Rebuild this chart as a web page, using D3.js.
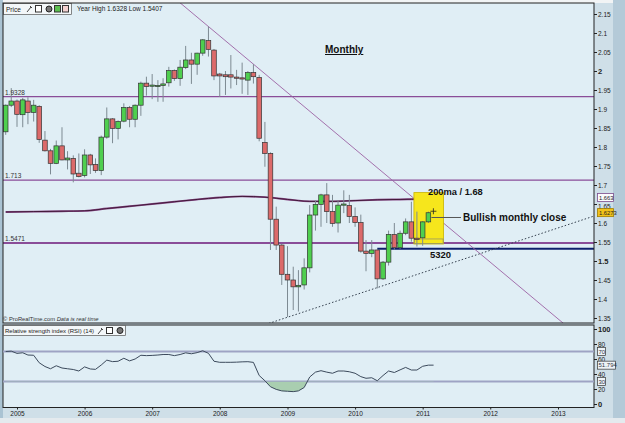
<!DOCTYPE html>
<html>
<head>
<meta charset="utf-8">
<script src="https://cdn.jsdelivr.net/npm/d3@7"></script>
<style>
  body { margin: 0; background: #c9dbe5; }
  svg text { font-family: "Liberation Sans", Arial, sans-serif; }
</style>
</head>
<body>
<svg id="chart" width="625" height="423"></svg>
<script>
// monthly candles, Nov 2004 .. Feb 2011
const months = [
  "2004-11", "2004-12",
  "2005-01", "2005-02", "2005-03", "2005-04", "2005-05", "2005-06", "2005-07", "2005-08", "2005-09", "2005-10", "2005-11", "2005-12",
  "2006-01", "2006-02", "2006-03", "2006-04", "2006-05", "2006-06", "2006-07", "2006-08", "2006-09", "2006-10", "2006-11", "2006-12",
  "2007-01", "2007-02", "2007-03", "2007-04", "2007-05", "2007-06", "2007-07", "2007-08", "2007-09", "2007-10", "2007-11", "2007-12",
  "2008-01", "2008-02", "2008-03", "2008-04", "2008-05", "2008-06", "2008-07", "2008-08", "2008-09", "2008-10", "2008-11", "2008-12",
  "2009-01", "2009-02", "2009-03", "2009-04", "2009-05", "2009-06", "2009-07", "2009-08", "2009-09", "2009-10", "2009-11", "2009-12",
  "2010-01", "2010-02", "2010-03", "2010-04", "2010-05", "2010-06", "2010-07", "2010-08", "2010-09", "2010-10", "2010-11", "2010-12",
  "2011-01", "2011-02"
];
const opens = [
  1.840, 1.910,
  1.921, 1.885, 1.921, 1.891, 1.907, 1.818, 1.790, 1.757, 1.803, 1.766, 1.770, 1.731,
  1.725, 1.779, 1.754, 1.738, 1.826, 1.874, 1.849, 1.868, 1.904, 1.873, 1.910, 1.968,
  1.960, 1.962, 1.962, 1.969, 2.001, 1.980, 2.009, 2.029, 2.018, 2.047, 2.080, 2.055,
  1.992, 1.990, 1.990, 1.984, 1.982, 1.976, 1.996, 1.983, 1.812, 1.783, 1.610, 1.542,
  1.465, 1.450, 1.432, 1.437, 1.482, 1.621, 1.649, 1.674, 1.630, 1.600, 1.647, 1.646,
  1.617, 1.601, 1.526, 1.520, 1.529, 1.453, 1.497, 1.570, 1.535, 1.573, 1.603, 1.560,
  1.561, 1.603
];
const highs = [
  1.912, 1.955,
  1.925, 1.929, 1.931, 1.924, 1.910, 1.842, 1.795, 1.817, 1.852, 1.789, 1.778, 1.783,
  1.794, 1.782, 1.770, 1.830, 1.904, 1.876, 1.870, 1.915, 1.908, 1.912, 1.972, 1.985,
  1.992, 1.976, 1.981, 2.011, 2.004, 2.029, 2.066, 2.048, 2.048, 2.084, 2.117, 2.058,
  1.995, 2.000, 2.042, 2.003, 2.022, 2.000, 2.018, 1.990, 1.866, 1.786, 1.643, 1.545,
  1.539, 1.485, 1.476, 1.507, 1.647, 1.660, 1.677, 1.705, 1.674, 1.659, 1.686, 1.674,
  1.641, 1.622, 1.555, 1.555, 1.530, 1.500, 1.580, 1.600, 1.580, 1.612, 1.656, 1.630,
  1.605, 1.630
];
const lows = [
  1.832, 1.905,
  1.853, 1.852, 1.860, 1.867, 1.811, 1.788, 1.728, 1.755, 1.765, 1.741, 1.707, 1.720,
  1.720, 1.729, 1.732, 1.726, 1.822, 1.810, 1.820, 1.865, 1.852, 1.852, 1.882, 1.935,
  1.926, 1.919, 1.919, 1.959, 1.974, 1.961, 2.005, 1.966, 1.990, 2.040, 2.038, 1.976,
  1.932, 1.937, 1.954, 1.963, 1.940, 1.937, 1.967, 1.815, 1.748, 1.529, 1.529, 1.437,
  1.353, 1.371, 1.367, 1.425, 1.470, 1.580, 1.590, 1.600, 1.590, 1.575, 1.626, 1.600,
  1.590, 1.522, 1.473, 1.510, 1.428, 1.450, 1.488, 1.530, 1.532, 1.568, 1.551, 1.538,
  1.540, 1.600
];
const closes = [
  1.910, 1.921,
  1.886, 1.924, 1.891, 1.910, 1.820, 1.790, 1.757, 1.803, 1.766, 1.771, 1.729, 1.722,
  1.779, 1.753, 1.738, 1.826, 1.874, 1.849, 1.867, 1.904, 1.873, 1.910, 1.968, 1.959,
  1.963, 1.962, 1.966, 2.001, 1.980, 2.010, 2.029, 2.018, 2.047, 2.082, 2.057, 1.987,
  1.987, 1.985, 1.984, 1.981, 1.980, 1.996, 1.985, 1.823, 1.783, 1.610, 1.542, 1.465,
  1.450, 1.432, 1.436, 1.482, 1.621, 1.649, 1.674, 1.630, 1.599, 1.647, 1.650, 1.617,
  1.601, 1.526, 1.520, 1.529, 1.453, 1.497, 1.570, 1.535, 1.573, 1.603, 1.560, 1.558,
  1.603, 1.627
];

// RSI(14), one value per month (last one = current month)
const rsiMonths = months.concat(["2011-03"]);
const rsiValues = [
  70, 70.5, 67.5, 68.3, 65.3, 65, 55, 50, 47, 51,
  48, 47, 46, 44, 49.5, 46.7, 46.2, 52, 58.5, 56.5,
  57, 61, 57.5, 60, 65, 64.5, 64.8, 65.3, 66, 66,
  64.5, 66, 68.2, 67, 68.5, 71, 67.6, 57, 55.6, 55.6,
  55.6, 55.8, 56.2, 56.4, 55.5, 38, 31, 23, 19.5, 17.5,
  17, 16.5, 17.5, 22, 36, 42.5, 44.4, 42.5, 41, 44,
  44, 43, 41, 36.5, 34.3, 35, 31, 38, 44, 42,
  45.5, 48.8, 45.3, 45.3, 50.3, 51.8, 51.8
];

// 200 period moving average, read every few months
const maMonths = ["2004-11", "2005-04", "2005-09", "2006-01", "2006-05", "2006-09", "2007-01", "2007-05",
                  "2007-09", "2008-01", "2008-05", "2008-09", "2009-01", "2009-05", "2009-09", "2010-01",
                  "2010-05", "2010-09", "2011-01", "2011-03"];
const maValues = [1.629, 1.630, 1.631, 1.632, 1.638, 1.644, 1.650, 1.656,
                  1.662, 1.667, 1.670, 1.668, 1.662, 1.657, 1.657, 1.659,
                  1.661, 1.662, 1.663, 1.663];

const levels = [1.9328, 1.713, 1.5471];
const levelLabels = ["1.9328", "1.713", "1.5471"];
const support = { from: "2010-05", value: 1.532, label: "5320" };
const downTrend = [["2007-11", 2.117], ["2008-07", 2.018]];
const upTrend = [["2009-01", 1.352], ["2010-05", 1.430]];
const highlight = { from: "2010-12", to: "2011-03", top: 1.68, bottom: 1.5447 };

const priceTicks = [2.15, 2.1, 2.05, 2, 1.95, 1.9, 1.85, 1.8, 1.75, 1.7, 1.65, 1.6, 1.55, 1.5, 1.45, 1.4, 1.35];
const rsiTicks = [100, 80, 60, 40, 20, 0];
const rsiLevels = [70, 30];
const years = ["2005", "2006", "2007", "2008", "2009", "2010", "2011", "2012", "2013"];

const lastMa = 1.663;
const lastClose = 1.6273;
const lastRsi = 51.794;

// layout
const price = { left: 3, right: 594, top: 3, bottom: 323 };
const osc = { left: 3, right: 594, top: 325, bottom: 407.5 };

const parseMonth = d3.timeParse("%Y-%m");

const x = d3.scaleTime()
  .domain([parseMonth("2005-01"), parseMonth("2013-01")])
  .range([17, 558]);
const y = d3.scaleLinear().domain([1.35, 2.15]).range([318, 14]);
const yr = d3.scaleLinear().domain([0, 100]).range([404, 329]);

const svg = d3.select("#chart");

// frame
svg.append("rect").attr("width", 625).attr("height", 423).attr("fill", "#cfdfe8");
svg.append("rect").attr("x", 0).attr("y", 0).attr("width", 625).attr("height", 3).attr("fill", "#f2f4f5");
svg.append("rect").attr("x", 613).attr("y", 0).attr("width", 12).attr("height", 423).attr("fill", "#b4cad8");
svg.append("rect").attr("x", 0).attr("y", 0).attr("width", 3).attr("height", 418).attr("fill", "#aac3d3");
svg.append("rect").attr("x", 0).attr("y", 418).attr("width", 625).attr("height", 5).attr("fill", "#e4eaee");

const defs = svg.append("defs");
defs.append("clipPath").attr("id", "clip-price")
  .append("rect").attr("x", price.left).attr("y", price.top)
  .attr("width", price.right - price.left).attr("height", price.bottom - price.top);
defs.append("clipPath").attr("id", "clip-rsi-low")
  .append("rect").attr("x", osc.left).attr("y", yr(30))
  .attr("width", osc.right - osc.left).attr("height", osc.bottom - yr(30));

// ---------- price panel ----------
svg.append("rect")
  .attr("x", price.left).attr("y", price.top)
  .attr("width", price.right - price.left).attr("height", price.bottom - price.top)
  .attr("fill", "#e0eef5");

const g = svg.append("g").attr("clip-path", "url(#clip-price)");

// horizontal levels
g.selectAll(".level").data(levels).enter().append("line")
  .attr("x1", price.left).attr("x2", price.right)
  .attr("y1", d => y(d)).attr("y2", d => y(d))
  .attr("stroke", "#8a4d98")
  .attr("stroke-width", (d, i) => i === 2 ? 2 : 1.2);

svg.selectAll(".level-label").data(levels).enter().append("text")
  .attr("x", 5).attr("y", d => y(d) - 2)
  .attr("font-size", 6.5).attr("fill", "#333")
  .text((d, i) => levelLabels[i]);

// support line
g.append("line")
  .attr("x1", x(parseMonth(support.from))).attr("x2", price.right)
  .attr("y1", y(support.value)).attr("y2", y(support.value))
  .attr("stroke", "#0d1f6b").attr("stroke-width", 2);

// trend lines, extended across the panel
const extend = (pts) => {
  const [a, b] = pts.map(p => [x(parseMonth(p[0])), y(p[1])]);
  const k = (b[1] - a[1]) / (b[0] - a[0]);
  return [[price.left, a[1] + k * (price.left - a[0])], [price.right, a[1] + k * (price.right - a[0])]];
};
const down = extend(downTrend);
g.append("line")
  .attr("x1", down[0][0]).attr("y1", down[0][1]).attr("x2", down[1][0]).attr("y2", down[1][1])
  .attr("stroke", "#9c62a4").attr("stroke-width", 0.9);
const up = extend(upTrend);
g.append("line")
  .attr("x1", up[0][0]).attr("y1", up[0][1]).attr("x2", up[1][0]).attr("y2", up[1][1])
  .attr("stroke", "#34404e").attr("stroke-width", 1).attr("stroke-dasharray", "1.5,2");

// moving average
const maLine = d3.line()
  .x((d, i) => x(parseMonth(maMonths[i])))
  .y(d => y(d))
  .curve(d3.curveMonotoneX);
g.append("path").attr("d", maLine(maValues))
  .attr("fill", "none").attr("stroke", "#8a4d8a").attr("stroke-width", 1.9);
g.append("path").attr("d", maLine(maValues))
  .attr("fill", "none").attr("stroke", "#3a1230").attr("stroke-width", 0.9);

// highlight box around the last candles
const boxX0 = x(parseMonth(highlight.from)) - 3;
const boxX1 = x(parseMonth(highlight.to)) + 10;
g.append("rect")
  .attr("x", boxX0).attr("y", y(highlight.top))
  .attr("width", boxX1 - boxX0).attr("height", y(highlight.bottom) - y(highlight.top))
  .attr("fill", "#f6e61c").attr("stroke", "#c9b400").attr("stroke-width", 0.8);
g.append("rect")
  .attr("x", boxX0 + 0.5).attr("y", y(1.558))
  .attr("width", boxX1 - boxX0 - 1).attr("height", y(highlight.bottom) - y(1.558) - 0.5)
  .attr("fill", "none").attr("stroke", "#8a8a70").attr("stroke-width", 0.7);

// candles
const candles = months.map((m, i) => ({ date: parseMonth(m), o: opens[i], h: highs[i], l: lows[i], c: closes[i] }));
g.selectAll(".wick").data(candles).enter().append("line")
  .attr("x1", d => x(d.date)).attr("x2", d => x(d.date))
  .attr("y1", d => y(d.h)).attr("y2", d => y(d.l))
  .attr("stroke", "#7d8a92").attr("stroke-width", 1);
g.selectAll(".body").data(candles).enter().append("rect")
  .attr("x", d => x(d.date) - 2.3)
  .attr("width", 4.6)
  .attr("y", d => y(Math.max(d.o, d.c)))
  .attr("height", d => Math.max(1.2, Math.abs(y(d.o) - y(d.c))))
  .attr("fill", d => d.c >= d.o ? "#4fcf4f" : "#dc6a6a")
  .attr("stroke", "#333").attr("stroke-width", 0.7);

// annotations
const lastCandle = candles[candles.length - 1];
const crossX = x(lastCandle.date) + 5;
const crossY = y(lastCandle.c) - 1.5;
g.append("path")
  .attr("d", `M${crossX - 3},${crossY}H${crossX + 3}M${crossX},${crossY - 3}V${crossY + 3}`)
  .attr("stroke", "#222").attr("stroke-width", 0.8);
g.append("line")
  .attr("x1", x(lastCandle.date) + 3).attr("x2", 461)
  .attr("y1", y(1.6145)).attr("y2", y(1.6145))
  .attr("stroke", "#555").attr("stroke-width", 1);

svg.append("text").attr("x", 463).attr("y", y(1.6145) + 3.5)
  .attr("font-size", 10).attr("font-weight", "bold").attr("fill", "#111")
  .text("Bullish monthly close");
svg.append("text").attr("x", 428).attr("y", y(1.685) + 4)
  .attr("font-size", 9.3).attr("font-weight", "bold").attr("fill", "#111")
  .text("200ma / 1.68");
svg.append("text").attr("x", boxX0 + 16).attr("y", y(1.532) + 9)
  .attr("font-size", 9.5).attr("font-weight", "bold").attr("fill", "#111")
  .text(support.label);
svg.append("text").attr("x", 325).attr("y", 53)
  .attr("font-size", 10).attr("font-weight", "bold").attr("fill", "#111")
  .attr("text-decoration", "underline")
  .text("Monthly");

// price legend box
const leg = svg.append("g");
leg.append("rect").attr("x", 3.5).attr("y", 3.5).attr("width", 68).attr("height", 11)
  .attr("fill", "#f3f7f9").attr("stroke", "#555").attr("stroke-width", 0.7);
leg.append("text").attr("x", 6).attr("y", 11.5).attr("font-size", 6.5).attr("fill", "#222").text("Price");
leg.append("path").attr("d", "M27,12 L31,7 M30,6 l2,2").attr("stroke", "#444").attr("fill", "none");
leg.append("rect").attr("x", 35.5).attr("y", 5.5).attr("width", 6).attr("height", 6.5).attr("fill", "#fff").attr("stroke", "#333");
leg.append("circle").attr("cx", 49).attr("cy", 9).attr("r", 3).attr("fill", "#777").attr("stroke", "#222");
leg.append("rect").attr("x", 54.5).attr("y", 5.5).attr("width", 6).attr("height", 6.5).attr("fill", "#5bbf4f").attr("stroke", "#333");
leg.append("rect").attr("x", 62.5).attr("y", 5.5).attr("width", 6).attr("height", 6.5).attr("fill", "#f2d0d0").attr("stroke", "#333");
svg.append("text").attr("x", 77).attr("y", 10.5).attr("font-size", 6.5).attr("fill", "#222")
  .text("Year High 1.6328 Low 1.5407");

const credit = svg.append("text").attr("x", 3).attr("y", 321).attr("font-size", 5.8).attr("fill", "#333");
credit.append("tspan").text("© ProRealTime.com  ");
credit.append("tspan").attr("font-style", "italic").text("Data is real time");

// price panel border
svg.append("rect")
  .attr("x", price.left).attr("y", price.top)
  .attr("width", price.right - price.left).attr("height", price.bottom - price.top)
  .attr("fill", "none").attr("stroke", "#222").attr("stroke-width", 1);

// right price axis
const yAxis = d3.axisRight(y).tickValues(priceTicks).tickSize(3).tickFormat(d => String(d));
const ya = svg.append("g").attr("transform", `translate(${price.right},0)`).call(yAxis);
ya.select(".domain").remove();
ya.selectAll("line").attr("stroke", "#222");
ya.selectAll("text").attr("x", 4).attr("fill", "#222")
  .attr("font-weight", d => (d === 2 || d === 1.5) ? "bold" : null)
  .attr("font-size", d => (d === 2 || d === 1.5) ? 7.5 : 6.5)
  .attr("dy", d => d === 1.65 ? "0.75em" : "0.32em");

// value badges
const badge = (yy, txt, fill, stroke) => {
  svg.append("rect").attr("x", 597.5).attr("y", yy - 4).attr("width", 16).attr("height", 8)
    .attr("fill", fill).attr("stroke", stroke).attr("stroke-width", 0.8);
  svg.append("text").attr("x", 599).attr("y", yy + 2.2).attr("font-size", 5.8).attr("fill", "#222").text(txt);
};
badge(y(lastMa) - 1.5, "1.663", "#fbfbfd", "#7a4a8a");
badge(y(lastClose), "1.6273", "#f2c21a", "#a07e00");

// ---------- RSI panel ----------
svg.append("rect")
  .attr("x", osc.left).attr("y", osc.top)
  .attr("width", osc.right - osc.left).attr("height", osc.bottom - osc.top)
  .attr("fill", "#e0eef5").attr("stroke", "#222").attr("stroke-width", 1);

svg.selectAll(".rsi-level").data(rsiLevels).enter().append("line")
  .attr("x1", osc.left).attr("x2", osc.right)
  .attr("y1", d => yr(d)).attr("y2", d => yr(d))
  .attr("stroke", "#9ea3c4").attr("stroke-width", 2);

const rsiData = rsiValues.map((v, i) => ({ date: parseMonth(rsiMonths[i]), v }));
svg.append("path")
  .attr("clip-path", "url(#clip-rsi-low)")
  .attr("d", d3.area().x(d => x(d.date)).y0(yr(30)).y1(d => yr(d.v))(rsiData))
  .attr("fill", "#a9ceb0").attr("stroke", "none");
svg.append("path")
  .attr("d", d3.line().x(d => x(d.date)).y(d => yr(d.v))(rsiData))
  .attr("fill", "none").attr("stroke", "#3c4a5c").attr("stroke-width", 1);

// RSI legend box
const leg2 = svg.append("g");
leg2.append("rect").attr("x", 3.5).attr("y", 325.5).attr("width", 122).attr("height", 10)
  .attr("fill", "#f3f7f9").attr("stroke", "#555").attr("stroke-width", 0.7);
leg2.append("text").attr("x", 5).attr("y", 333).attr("font-size", 6).attr("fill", "#222")
  .text("Relative strength index (RSI) (14)");
leg2.append("path").attr("d", "M98,334 L102,329 M101,328 l2,2").attr("stroke", "#444").attr("fill", "none");
leg2.append("rect").attr("x", 106.5).attr("y", 327.5).attr("width", 6).attr("height", 6).attr("fill", "#fff").attr("stroke", "#333");
leg2.append("circle").attr("cx", 120).attr("cy", 330.5).attr("r", 3).attr("fill", "#777").attr("stroke", "#222");

// RSI axis
const rAxis = d3.axisRight(yr).tickValues(rsiTicks).tickSize(3);
const ra = svg.append("g").attr("transform", `translate(${osc.right},0)`).call(rAxis);
ra.select(".domain").remove();
ra.selectAll("line").attr("stroke", "#222");
ra.selectAll("text").attr("x", 4).attr("fill", "#222")
  .attr("font-size", d => (d === 100 || d === 0) ? 7.5 : 6.5)
  .attr("font-weight", d => (d === 100 || d === 0) ? "bold" : null);

const rbadge = (yy, txt, w) => {
  svg.append("rect").attr("x", 597.5).attr("y", yy - 4).attr("width", w).attr("height", 8)
    .attr("fill", "#eef3f7").attr("stroke", "#333").attr("stroke-width", 0.7);
  svg.append("text").attr("x", 598.5).attr("y", yy + 2.3).attr("font-size", 6).attr("fill", "#334").text(txt);
};
rbadge(yr(70), "70", 8);
rbadge(yr(lastRsi), "51.794", 18);
rbadge(yr(30), "30", 8);

// time axis
const xAxis = d3.axisBottom(x).tickValues(years.map(d => d3.timeParse("%Y")(d)))
  .tickSize(2).tickFormat(d3.timeFormat("%Y"));
const xa = svg.append("g").attr("transform", `translate(0,${osc.bottom})`).call(xAxis);
xa.select(".domain").remove();
xa.selectAll("line").attr("stroke", "#222");
xa.selectAll("text").attr("font-size", 6.5).attr("fill", "#222").attr("dy", "0.55em");
</script>
</body>
</html>
